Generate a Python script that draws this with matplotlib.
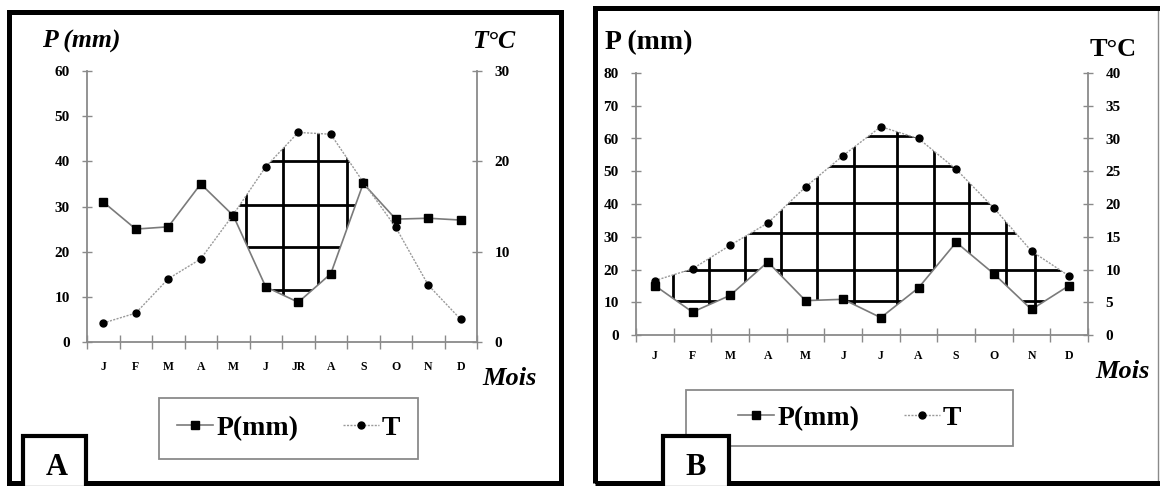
import numpy as np
import matplotlib
matplotlib.use('Agg')
import matplotlib.pyplot as plt
from matplotlib.patches import Rectangle
from matplotlib.lines import Line2D
from matplotlib.collections import LineCollection
from matplotlib.path import Path

W, H = 1160, 486
plt.rcParams['font.family'] = ['Liberation Serif', 'DejaVu Serif']

# --- data ---
months_a = ['J', 'F', 'M', 'A', 'M', 'J', 'JR', 'A', 'S', 'O', 'N', 'D']
months_b = ['J', 'F', 'M', 'A', 'M', 'J', 'J', 'A', 'S', 'O', 'N', 'D']

p_a = [31, 25, 25.5, 35, 28, 12.2, 8.8, 15.1, 35.1, 27.2, 27.4, 27]
t_a = [2.1, 3.2, 7.0, 9.2, 14.1, 19.4, 23.2, 23.0, 17.7, 12.7, 6.3, 2.5]

p_b = [15.1, 7.0, 12.1, 22.3, 10.5, 10.9, 5.3, 14.4, 28.3, 18.7, 7.8, 15.1]
t_b = [8.3, 10.1, 13.7, 17.1, 22.6, 27.4, 31.8, 30.0, 25.3, 19.4, 12.8, 9.0]

# hatching of the dry season (levels in mm, positions in month index)
hatch_a_h = [11.5, 21, 30.4, 40]
hatch_a_v = [4.4, 5.54, 6.6, 7.5]
hatch_b_h = [10.5, 19.8, 31.1, 40.3, 51.7, 60.8]
hatch_b_v = [0.47, 1.45, 2.4, 3.36, 4.31, 5.29, 6.44, 7.41, 8.35, 9.33, 10.09]

GREY = '#8a8a8a'


def frac(x0, y0, x1, y1):
    # pixel box -> figure fraction [left, bottom, width, height]
    return [x0 / W, 1 - y1 / H, (x1 - x0) / W, (y1 - y0) / H]


def ftext(fig, x, y, s, **kw):
    kw.setdefault('va', 'center')
    kw.setdefault('zorder', 6)
    fig.text(x / W, 1 - y / H, s, **kw)


def box(fig, x0, y0, x1, y1, lw, color='black', z=3, fill=False):
    fig.patches.append(Rectangle((x0 / W, 1 - y1 / H), (x1 - x0) / W, (y1 - y0) / H,
                                 transform=fig.transFigure, fill=fill, facecolor='white',
                                 edgecolor=color, linewidth=lw, zorder=z))


def panel(fig, axbox, months, p, t, pmax, pstep, tmax, tstep, hh, hv, tick_pad_x):
    ax = fig.add_axes(frac(*axbox))
    ax2 = ax.twinx()
    x = np.arange(len(months))

    for a in (ax, ax2):
        a.set_xlim(-0.5, 11.5)
        a.set_facecolor('none')
        a.spines['top'].set_visible(False)
        for s in ('left', 'right', 'bottom'):
            a.spines[s].set_color(GREY)
            a.spines[s].set_linewidth(1.3)
    ax.spines['right'].set_visible(False)
    ax2.spines['left'].set_visible(False)
    ax2.spines['bottom'].set_visible(False)

    ax.set_ylim(0, pmax)
    ax2.set_ylim(0, tmax)
    ax.set_yticks(np.arange(0, pmax + 1, pstep))
    ax2.set_yticks(np.arange(0, tmax + 1, tstep))
    ax.tick_params(axis='y', direction='inout', length=7, width=1, color=GREY, pad=9,
                   labelsize=11)
    ax2.tick_params(axis='y', direction='inout', length=7, width=1, color=GREY, pad=9,
                    labelsize=11)
    for lab in ax.get_yticklabels() + ax2.get_yticklabels():
        lab.set_fontweight('bold')

    ax.set_xticks(np.arange(-0.5, 12, 1))
    ax.set_xticklabels([])
    ax.set_xticks(x, minor=True)
    ax.set_xticklabels(months, minor=True, fontsize=8.5, fontweight='bold')
    ax.tick_params(axis='x', which='major', direction='inout', length=10, width=1, color=GREY)
    ax.tick_params(axis='x', which='minor', length=0, pad=tick_pad_x)

    # dry season hatching: grid clipped to area where 2T > P
    t_in_p = np.array(t) * pmax / tmax
    region = ax.fill_between(x, p, t_in_p, where=t_in_p > np.array(p), interpolate=True,
                             facecolor='none', edgecolor='none')
    clip = Path.make_compound_path(*region.get_paths())
    segs = [[(-0.5, y), (11.5, y)] for y in hh] + [[(v, 0), (v, pmax)] for v in hv]
    lc = LineCollection(segs, colors='black', linewidths=2.0, capstyle='butt')
    ax.add_collection(lc)
    lc.set_clip_path(clip, ax.transData)

    lp, = ax.plot(x, p, color='#7a7a7a', lw=1.2, marker='s', ms=5.5,
                  mfc='black', mec='black', zorder=4)
    lt, = ax2.plot(x, t, color='#9a9a9a', lw=1.0, ls=(0, (1.5, 1)), marker='o', ms=5,
                   mfc='black', mec='black', zorder=4)
    return ax, lp, lt


fig = plt.figure(figsize=(W / 100, H / 100), dpi=100)

# ---------------- panel A ----------------
axA, lpA, ltA = panel(fig, (87, 71, 477, 342), months_a, p_a, t_a, 60, 10, 30, 10,
                      hatch_a_h, hatch_a_v, 13.5)
ftext(fig, 42, 41, 'P (mm)', fontsize=18.5, fontweight='bold', style='italic')
ftext(fig, 472, 41, 'T°C', fontsize=18.5, fontweight='bold', style='italic')
ftext(fig, 482, 378, 'Mois', fontsize=19, fontweight='bold', style='italic')

box(fig, 159, 398, 418, 459, 1.3, color=GREY, z=2)
legA = axA.legend([lpA, ltA], ['P(mm)', 'T'], loc='center', ncol=2,
                  bbox_to_anchor=((159 + 418) / 2 / W, 1 - 428 / H),
                  bbox_transform=fig.transFigure, frameon=False, numpoints=1,
                  handlelength=1.3, handletextpad=0.1, columnspacing=1.6,
                  prop={'size': 20, 'weight': 'bold'})

box(fig, 9, 12, 561, 483, 3.6)
box(fig, 23, 436, 86, 488, 3.0, fill=True, z=4)
ftext(fig, 57, 467, 'A', fontsize=22, fontweight='bold', ha='center')

# ---------------- panel B ----------------
axB, lpB, ltB = panel(fig, (636, 73, 1088, 335), months_b, p_b, t_b, 80, 10, 40, 5,
                      hatch_b_h, hatch_b_v, 10.5)
ftext(fig, 605, 43, 'P (mm)', fontsize=20, fontweight='bold')
ftext(fig, 1090, 50, 'T°C', fontsize=19, fontweight='bold')
ftext(fig, 1095, 372, 'Mois', fontsize=19, fontweight='bold', style='italic')

box(fig, 686, 390, 1013, 446, 1.3, color=GREY, z=2)
legB = axB.legend([lpB, ltB], ['P(mm)', 'T'], loc='center', ncol=2,
                  bbox_to_anchor=((686 + 1013) / 2 / W, 1 - 418 / H),
                  bbox_transform=fig.transFigure, frameon=False, numpoints=1,
                  handlelength=1.3, handletextpad=0.1, columnspacing=1.6,
                  prop={'size': 20, 'weight': 'bold'})

box(fig, 595, 8, 1164, 483, 3.6)
fig.add_artist(Line2D([1158 / W, 1158 / W], [1 - 8 / H, 1 - 483 / H], color=GREY, lw=1))
box(fig, 663, 436, 729, 488, 3.0, fill=True, z=4)
ftext(fig, 696, 467, 'B', fontsize=22, fontweight='bold', ha='center')

fig.savefig('out.png', dpi=100)
